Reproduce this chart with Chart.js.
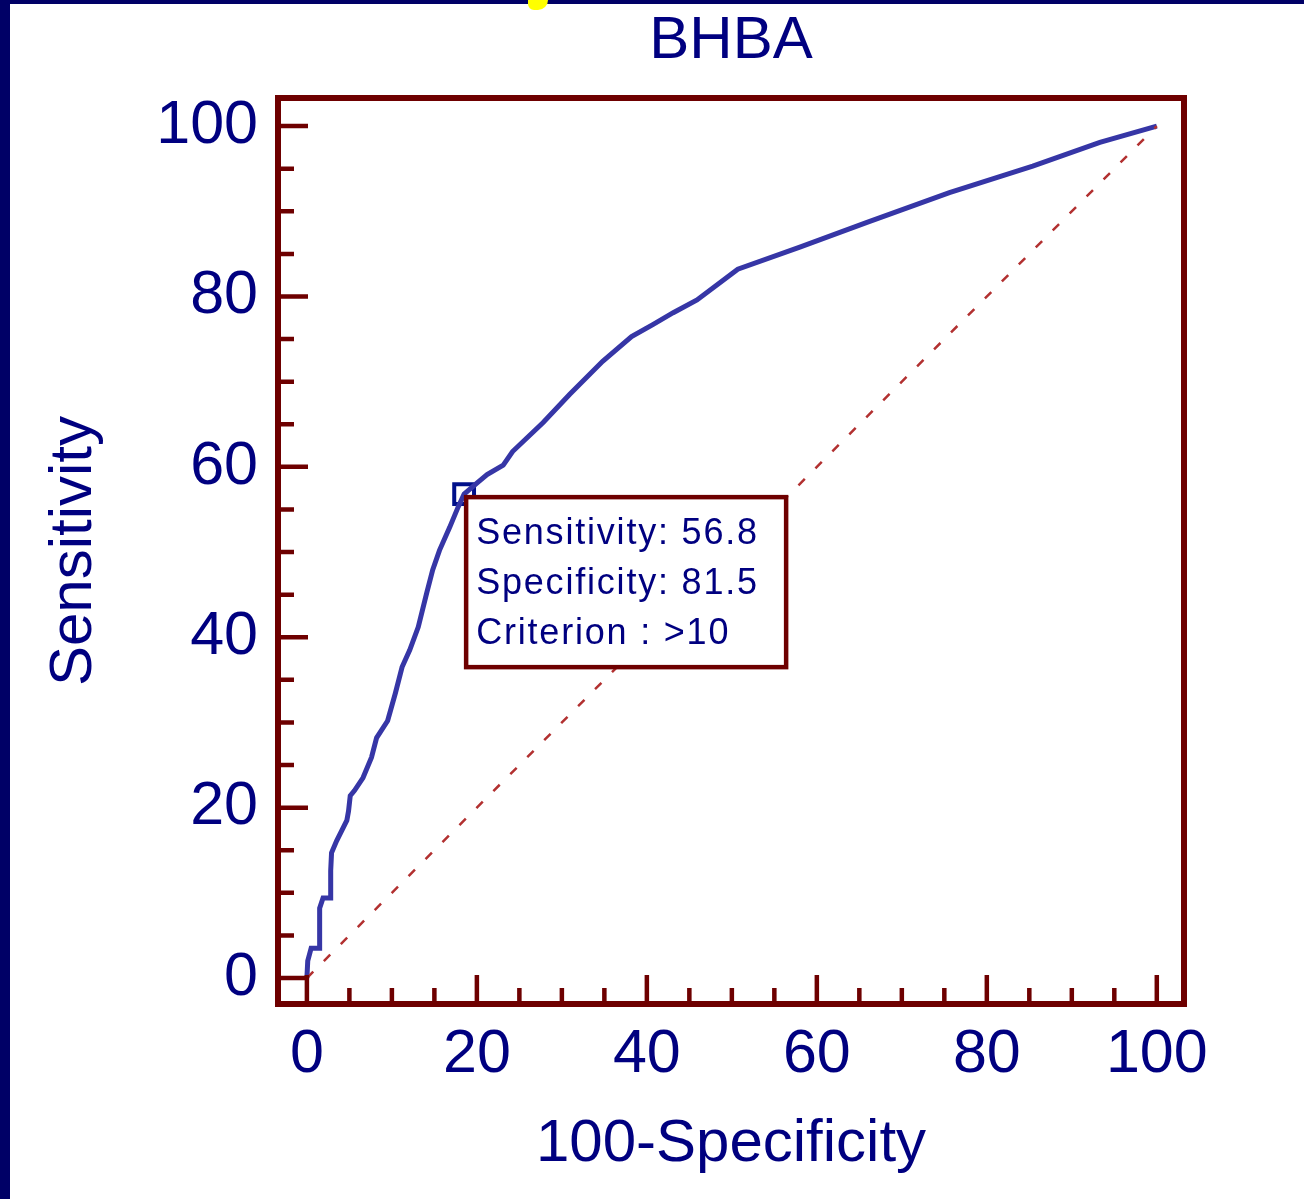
<!DOCTYPE html>
<html>
<head>
<meta charset="utf-8">
<title>BHBA ROC curve</title>
<script src="https://cdn.jsdelivr.net/npm/chart.js@4.4.1/dist/chart.umd.min.js"></script>
<style>
    body { margin: 0; background: #fff; }
    #wrap { position: relative; width: 1304px; height: 1199px; overflow: hidden; background: #fff; }
    #roc { position: absolute; left: 0; top: 0; }
    /* slide frame bits around the picture */
    .frame { position: absolute; background: #000066; }
    #frameLeft { left: 0; top: 0; width: 10px; height: 1199px; }
    #frameTop { left: 0; top: 0; width: 1304px; height: 4px; }
    #yellowBit { position: absolute; left: 528px; top: 0; width: 20px; height: 10px; background: #ffff00; border-radius: 0 0 10px 6px; }
</style>
</head>
<body>
<div id="wrap">
    <canvas id="roc" width="1304" height="1199"></canvas>
    <div class="frame" id="frameLeft"></div>
    <div class="frame" id="frameTop"></div>
    <div id="yellowBit"></div>
</div>
<script>
// values
const xTicks = [0, 20, 40, 60, 80, 100]
const yTicks = [0, 20, 40, 60, 80, 100]
// 100-Specificity (x) and Sensitivity (y) of the ROC curve
const fpr = [0, 0.1, 0.5, 1.5, 1.5, 1.9, 2.8, 2.8, 2.9, 3.5, 4.1, 4.7, 4.9, 5.1, 5.6, 6.6, 7.6, 8.2, 9.5, 10.4,
    11.2, 12.1, 13.1, 14.1, 14.8, 15.6, 16.8, 17.8, 18.5, 20.0, 21.2, 23.1, 24.2, 27.8, 30.9, 34.8, 38.2, 40.7,
    43.1, 45.9, 50.7, 58.0, 65.9, 75.6, 85.4, 93.3, 100]
const tpr = [0, 2.0, 3.5, 3.5, 8.2, 9.4, 9.4, 12.6, 14.7, 16.1, 17.3, 18.5, 19.6, 21.4, 22.0, 23.5, 25.9, 28.2, 30.2, 33.4,
    36.5, 38.5, 41.2, 45.2, 47.9, 50.2, 52.9, 55.3, 56.8, 58.1, 59.1, 60.2, 61.8, 65.2, 68.5, 72.4, 75.3, 76.7,
    78.1, 79.6, 83.2, 85.8, 88.7, 92.2, 95.3, 98.1, 100]
const refLine = [0, 100]
const cutPoint = [18.5]
const cutSens = [56.8]
const boxLines = ['Sensitivity: 56.8', 'Specificity: 81.5', 'Criterion : >10']

const NAVY = '#000080'
const MAROON = '#6e0000'
const FONT = '"Liberation Sans", Arial, sans-serif'

Chart.defaults.font.family = FONT

function toPoints(xs, ys){
    return xs.map(function(x, i){ return {x: x, y: ys[i]} })
}

// frame, inward ticks and the criterion box
const rocFrame = {
    id: 'rocFrame',
    afterDatasetsDraw: function(chart){
        const ctx = chart.ctx
        const area = chart.chartArea
        const xs = chart.scales.x
        const ys = chart.scales.y
        ctx.save()
        ctx.strokeStyle = MAROON
        ctx.lineWidth = 4.5
        ctx.lineCap = 'butt'
        for (let v = 0; v <= 100; v += 5) {
            const major = v % 20 === 0
            const px = xs.getPixelForValue(v)
            const py = ys.getPixelForValue(v)
            ctx.beginPath()
            ctx.moveTo(px, area.bottom)
            ctx.lineTo(px, area.bottom - (major ? 29 : 16))
            ctx.moveTo(area.left, py)
            ctx.lineTo(area.left + (major ? 30 : 16), py)
            ctx.stroke()
        }
        ctx.lineWidth = 6
        ctx.strokeRect(area.left, area.top, area.right - area.left, area.bottom - area.top)

        // criterion box hangs from the marked point
        const mx = xs.getPixelForValue(cutPoint[0])
        const my = ys.getPixelForValue(cutSens[0])
        const bx = mx + 2, by = my + 3, bw = 320, bh = 170
        ctx.fillStyle = '#fff'
        ctx.fillRect(bx, by, bw, bh)
        ctx.lineWidth = 4.5
        ctx.strokeRect(bx, by, bw, bh)
        ctx.fillStyle = NAVY
        ctx.font = '36px ' + FONT
        ctx.letterSpacing = '1.8px'
        ctx.textBaseline = 'alphabetic'
        ctx.textAlign = 'left'
        boxLines.forEach(function(line, i){
            ctx.fillText(line, bx + 10, by + 47 + i * 50)
        })
        ctx.restore()
    }
}

new Chart(document.getElementById('roc'), {
    type: 'scatter',
    data: {
        datasets: [{
            label: 'Reference',
            data: toPoints(refLine, refLine),
            showLine: true,
            borderColor: '#b23030',
            borderWidth: 2.5,
            borderDash: [9, 15],
            pointRadius: 0
        },
        {
            label: 'BHBA',
            data: toPoints(fpr, tpr),
            showLine: true,
            borderColor: '#3636a6',
            borderWidth: 5,
            tension: 0,
            pointRadius: 0
        },
        {
            label: 'Criterion',
            data: toPoints(cutPoint, cutSens),
            pointStyle: 'rect',
            pointRadius: 14,
            backgroundColor: 'rgba(0,0,0,0)',
            borderColor: '#00108a',
            borderWidth: 4
        }]
    },
    options: {
        responsive: false,
        devicePixelRatio: 1,
        animation: false,
        layout: {padding: {left: 0, top: 0, right: 120, bottom: 0}},
        plugins: {
            legend: {display: false},
            tooltip: {enabled: false},
            title: {
                display: true,
                text: 'BHBA',
                color: NAVY,
                fullSize: false,
                font: {size: 60, weight: 'normal', lineHeight: 1},
                padding: {top: 11, bottom: 27}
            }
        },
        scales: {
            x: {
                type: 'linear',
                min: -3.4,
                max: 103.2,
                grid: {display: false, drawTicks: false},
                border: {display: false},
                afterBuildTicks: function(scale){
                    scale.ticks = xTicks.map(function(v){ return {value: v} })
                },
                afterFit: function(scale){ scale.height = 195 },
                ticks: {color: NAVY, font: {size: 61, lineHeight: 1}, padding: 21, maxRotation: 0},
                title: {
                    display: true,
                    text: '100-Specificity',
                    color: NAVY,
                    font: {size: 60, lineHeight: 1},
                    padding: {top: 0, bottom: 25}
                }
            },
            y: {
                type: 'linear',
                min: -3.05,
                max: 103.3,
                grid: {display: false, drawTicks: false},
                border: {display: false},
                afterBuildTicks: function(scale){
                    scale.ticks = yTicks.map(function(v){ return {value: v} })
                },
                afterFit: function(scale){ scale.width = 278 },
                ticks: {color: NAVY, font: {size: 61, lineHeight: 1}, padding: 20},
                title: {
                    display: true,
                    text: 'Sensitivity',
                    color: NAVY,
                    font: {size: 60, lineHeight: 1},
                    padding: {top: 44, bottom: 0}
                }
            }
        }
    },
    plugins: [rocFrame]
})
</script>
</body>
</html>
